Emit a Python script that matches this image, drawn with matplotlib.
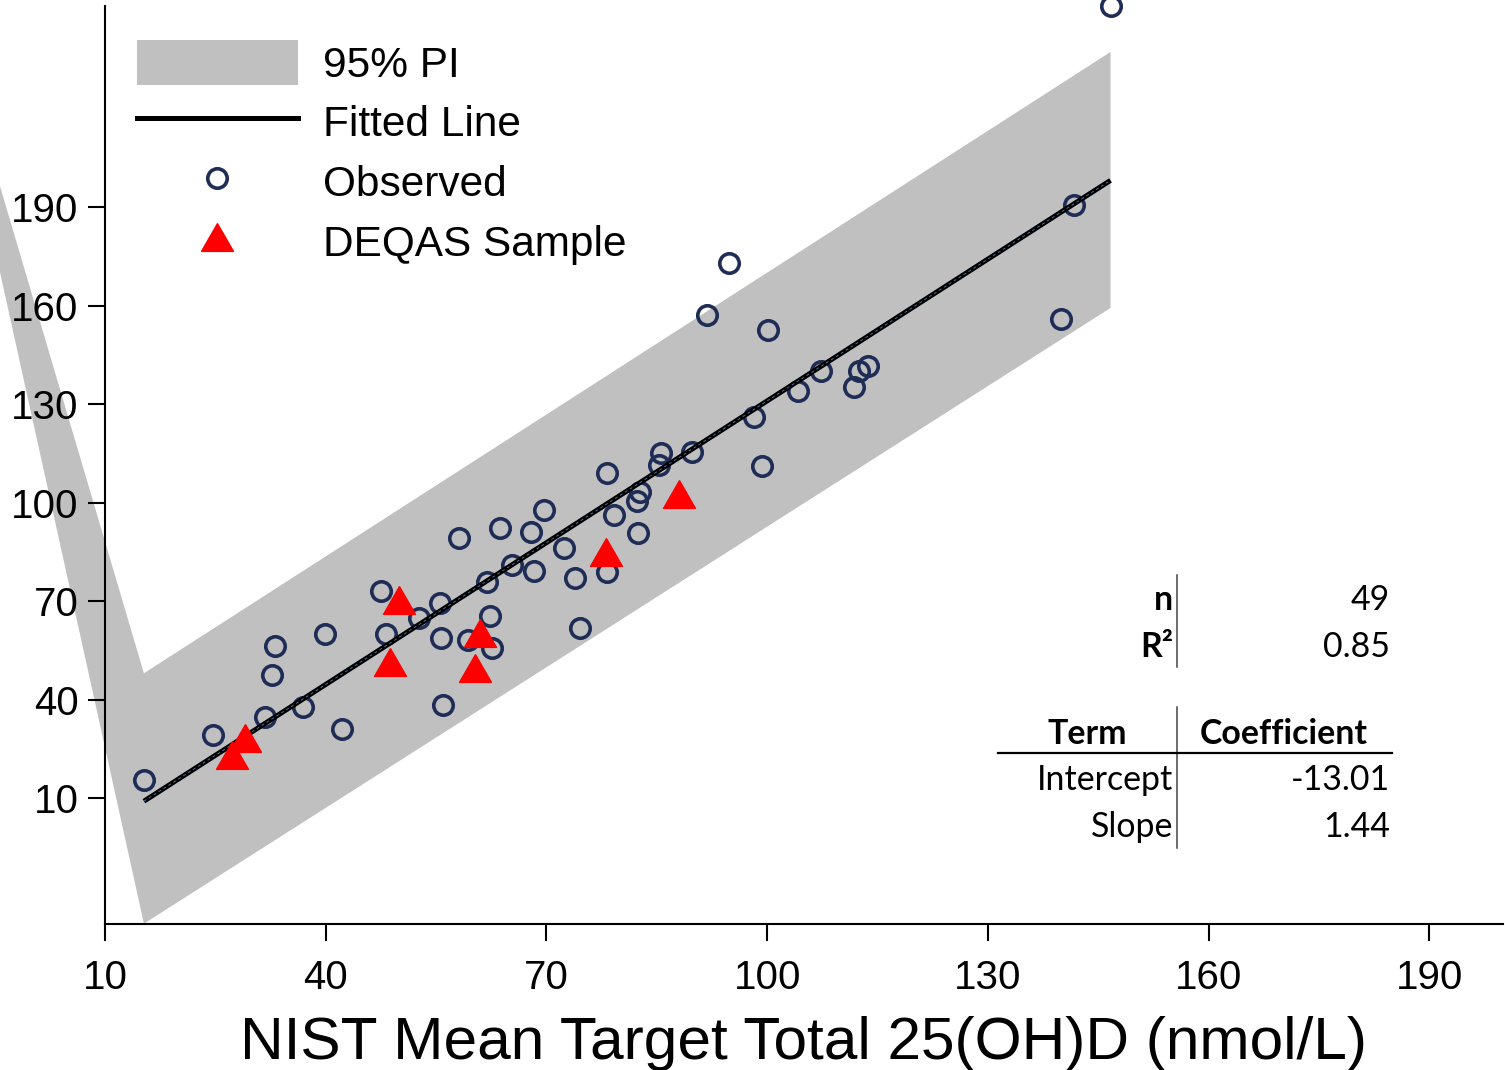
import matplotlib
matplotlib.use('Agg')
import matplotlib.pyplot as plt
from matplotlib.lines import Line2D
from matplotlib.patches import Patch

plt.rcParams['font.family'] = ['Liberation Sans', 'DejaVu Sans']

# observed results vs NIST target (nmol/L)
obs_x = [15.29, 24.70, 31.72, 32.63, 33.17, 36.92, 39.96, 42.27, 47.47, 48.15,
         52.67, 55.48, 55.61, 55.92, 58.06, 59.32, 61.90, 62.36, 62.63, 63.62,
         65.35, 67.92, 68.24, 69.73, 72.38, 73.90, 74.52, 78.24, 78.24, 79.14,
         82.31, 82.76, 82.49, 85.25, 85.57, 89.73, 91.82, 94.84, 98.24, 99.28,
         100.04, 104.21, 107.37, 111.81, 112.49, 113.75, 139.87, 141.68, 146.66]
obs_y = [15.48, 29.20, 34.59, 47.48, 56.41, 37.82, 59.88, 30.93, 73.08, 59.97,
         64.76, 69.51, 58.66, 38.34, 89.32, 58.14, 75.91, 65.46, 55.62, 92.36,
         81.00, 91.14, 79.17, 97.75, 86.03, 77.13, 61.71, 108.94, 78.96, 96.23,
         100.50, 103.33, 90.84, 111.47, 115.03, 115.43, 157.17, 173.11, 126.19, 111.17,
         152.60, 134.02, 140.20, 135.33, 140.20, 141.72, 155.86, 190.69, 251.33]

# DEQAS samples
deqas_x = [27.28, 29.00, 48.69, 49.91, 60.23, 60.91, 78.11, 88.06]
deqas_y = [23.10, 28.28, 51.53, 70.33, 49.70, 60.18, 84.87, 102.54]

# regression summary
n_obs = 49
r2 = 0.85
intercept = -13.01
slope = 1.44
fit_x = [min(obs_x), max(obs_x)]
fit_y = [intercept + slope * x for x in fit_x]

# prediction interval polygon (as exported, incl. the stray closing vertex)
pi_x = [15.29, 146.66, 146.66, 15.29, -14.5]
pi_y = [48.0, 237.3, 159.3, -28.3, 274.0]

W, H = 1505, 1070
fig = plt.figure(figsize=(W / 100, H / 100), dpi=100)
ax = fig.add_axes([105 / W, 146 / H, 1398 / W, 918 / H])
ax.set_xlim(10, 200)
ax.set_ylim(-28.4, 251.3)

navy = '#1f2c56'
circ = dict(ls='none', marker='o', ms=14, mfc='none', mec=navy, mew=2.6)
tri = [(0, 0.87), (-1, -0.87), (1, -0.87), (0, 0.87)]
trimk = dict(ls='none', marker=tri, ms=23, mfc='red', mec='red', mew=1)

ax.fill(pi_x, pi_y, color='#c0c0c0', lw=0, clip_on=False, zorder=1)
ax.plot(obs_x, obs_y, clip_on=False, zorder=3, **circ)
ax.plot(fit_x, fit_y, color='black', lw=3.6, solid_capstyle='butt', zorder=4)
ax.plot(fit_x, fit_y, color='#4a6f9a', lw=0.7, dashes=(3, 3), zorder=4)
ax.plot(deqas_x, deqas_y, zorder=5, **trimk)

ax.spines['top'].set_visible(False)
ax.spines['right'].set_visible(False)
for s in ['left', 'bottom']:
    ax.spines[s].set_linewidth(1.5)
ax.set_xticks(range(10, 191, 30))
ax.set_yticks(range(10, 191, 30))
ax.tick_params(axis='both', direction='out', length=12, width=1.5, labelsize=29)
ax.tick_params(axis='x', pad=13)
ax.tick_params(axis='y', pad=7)
ax.set_xlabel('NIST Mean Target Total 25(OH)D (nmol/L)', fontsize=43.5, labelpad=14)

handles = [Patch(facecolor='#c0c0c0', edgecolor='none'),
           Line2D([], [], color='black', lw=3.6),
           Line2D([], [], **circ),
           Line2D([], [], **trimk)]
labels = ['95% PI', 'Fitted Line', 'Observed', 'DEQAS Sample']
ax.legend(handles, labels, loc='upper left', bbox_to_anchor=(137 / W, 1 - 40 / H),
          bbox_transform=fig.transFigure, frameon=False, fontsize=30.5,
          handlelength=3.8, handleheight=1.25, handletextpad=0.6,
          labelspacing=0.33, borderpad=0, borderaxespad=0)

# summary table
def px(x, y):
    return x / W, 1 - y / H

tfont = dict(family=['Lato', 'DejaVu Sans'], fontsize=24.4, va='center')
fig.text(*px(1173, 600), 'n', ha='right', weight='bold', **tfont)
fig.text(*px(1173, 647), 'R²', ha='right', weight='bold', **tfont)
fig.text(*px(1390, 600), str(n_obs), ha='right', **tfont)
fig.text(*px(1390, 647), f'{r2:.2f}', ha='right', **tfont)
fig.text(*px(1087, 734), 'Term', ha='center', weight='bold', **tfont)
fig.text(*px(1284, 734), 'Coefficient', ha='center', weight='bold', **tfont)
fig.text(*px(1173, 780), 'Intercept', ha='right', **tfont)
fig.text(*px(1173, 827), 'Slope', ha='right', **tfont)
fig.text(*px(1390, 780), f'{intercept:.2f}', ha='right', **tfont)
fig.text(*px(1390, 827), f'{slope:.2f}', ha='right', **tfont)

fig.add_artist(Line2D([1177 / W, 1177 / W], [1 - 575 / H, 1 - 667 / H], color='#444444', lw=1.1))
fig.add_artist(Line2D([1177 / W, 1177 / W], [1 - 707 / H, 1 - 848 / H], color='#444444', lw=1.1))
fig.add_artist(Line2D([998 / W, 1392 / W], [1 - 753 / H, 1 - 753 / H], color='black', lw=1.6))

fig.savefig('out.png', dpi=100)
